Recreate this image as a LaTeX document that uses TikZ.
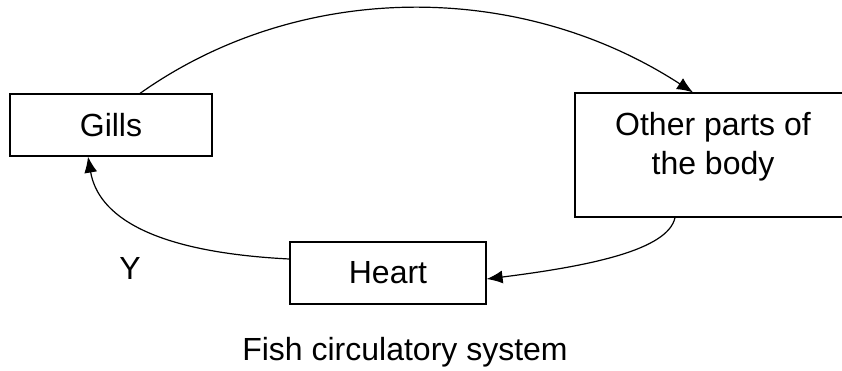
\documentclass[tikz,border=0pt]{standalone}
\usepackage{fontspec}
\setmainfont{Liberation Sans}
\usetikzlibrary{arrows.meta}
\begin{document}
\begin{tikzpicture}[x=1pt,y=-1pt,
  organ/.style={draw, line width=1.2pt, rectangle, inner sep=0pt, font=\fontsize{32}{39}\selectfont, align=center},
  flow/.style={draw, line width=1.2pt, -{Latex[length=16pt,width=13pt]}},
  lbl/.style={font=\fontsize{32}{39}\selectfont}]
\useasboundingbox (0,0) rectangle (842,370);
\node[organ, minimum width=202pt, minimum height=62pt] (g) at (111,125) {Gills};
\node[organ, minimum width=280pt, minimum height=124pt] (o) at (715,155) {};
\node[lbl, align=center] (ot) at (713,147) {Other parts of\\the body};
\node[organ, minimum width=196pt, minimum height=62pt] (h) at (388,273) {Heart};
\node[lbl] (y) at (130,268) {Y};
\node[lbl] (cap) at (405,352) {Fish circulatory system};
\draw[flow] ([xshift=29pt]g.north) .. controls (300,-20) and (520,-20) .. ([xshift=-22pt]o.north);
\draw[flow] ([yshift=14pt]h.west) .. controls (150,252) and (98,215) .. ([xshift=-23pt]g.south);
\draw[flow] ([xshift=-40pt]o.south) .. controls (668,250) and (590,266) .. ([yshift=-6pt]h.east);
\end{tikzpicture}
\end{document}
